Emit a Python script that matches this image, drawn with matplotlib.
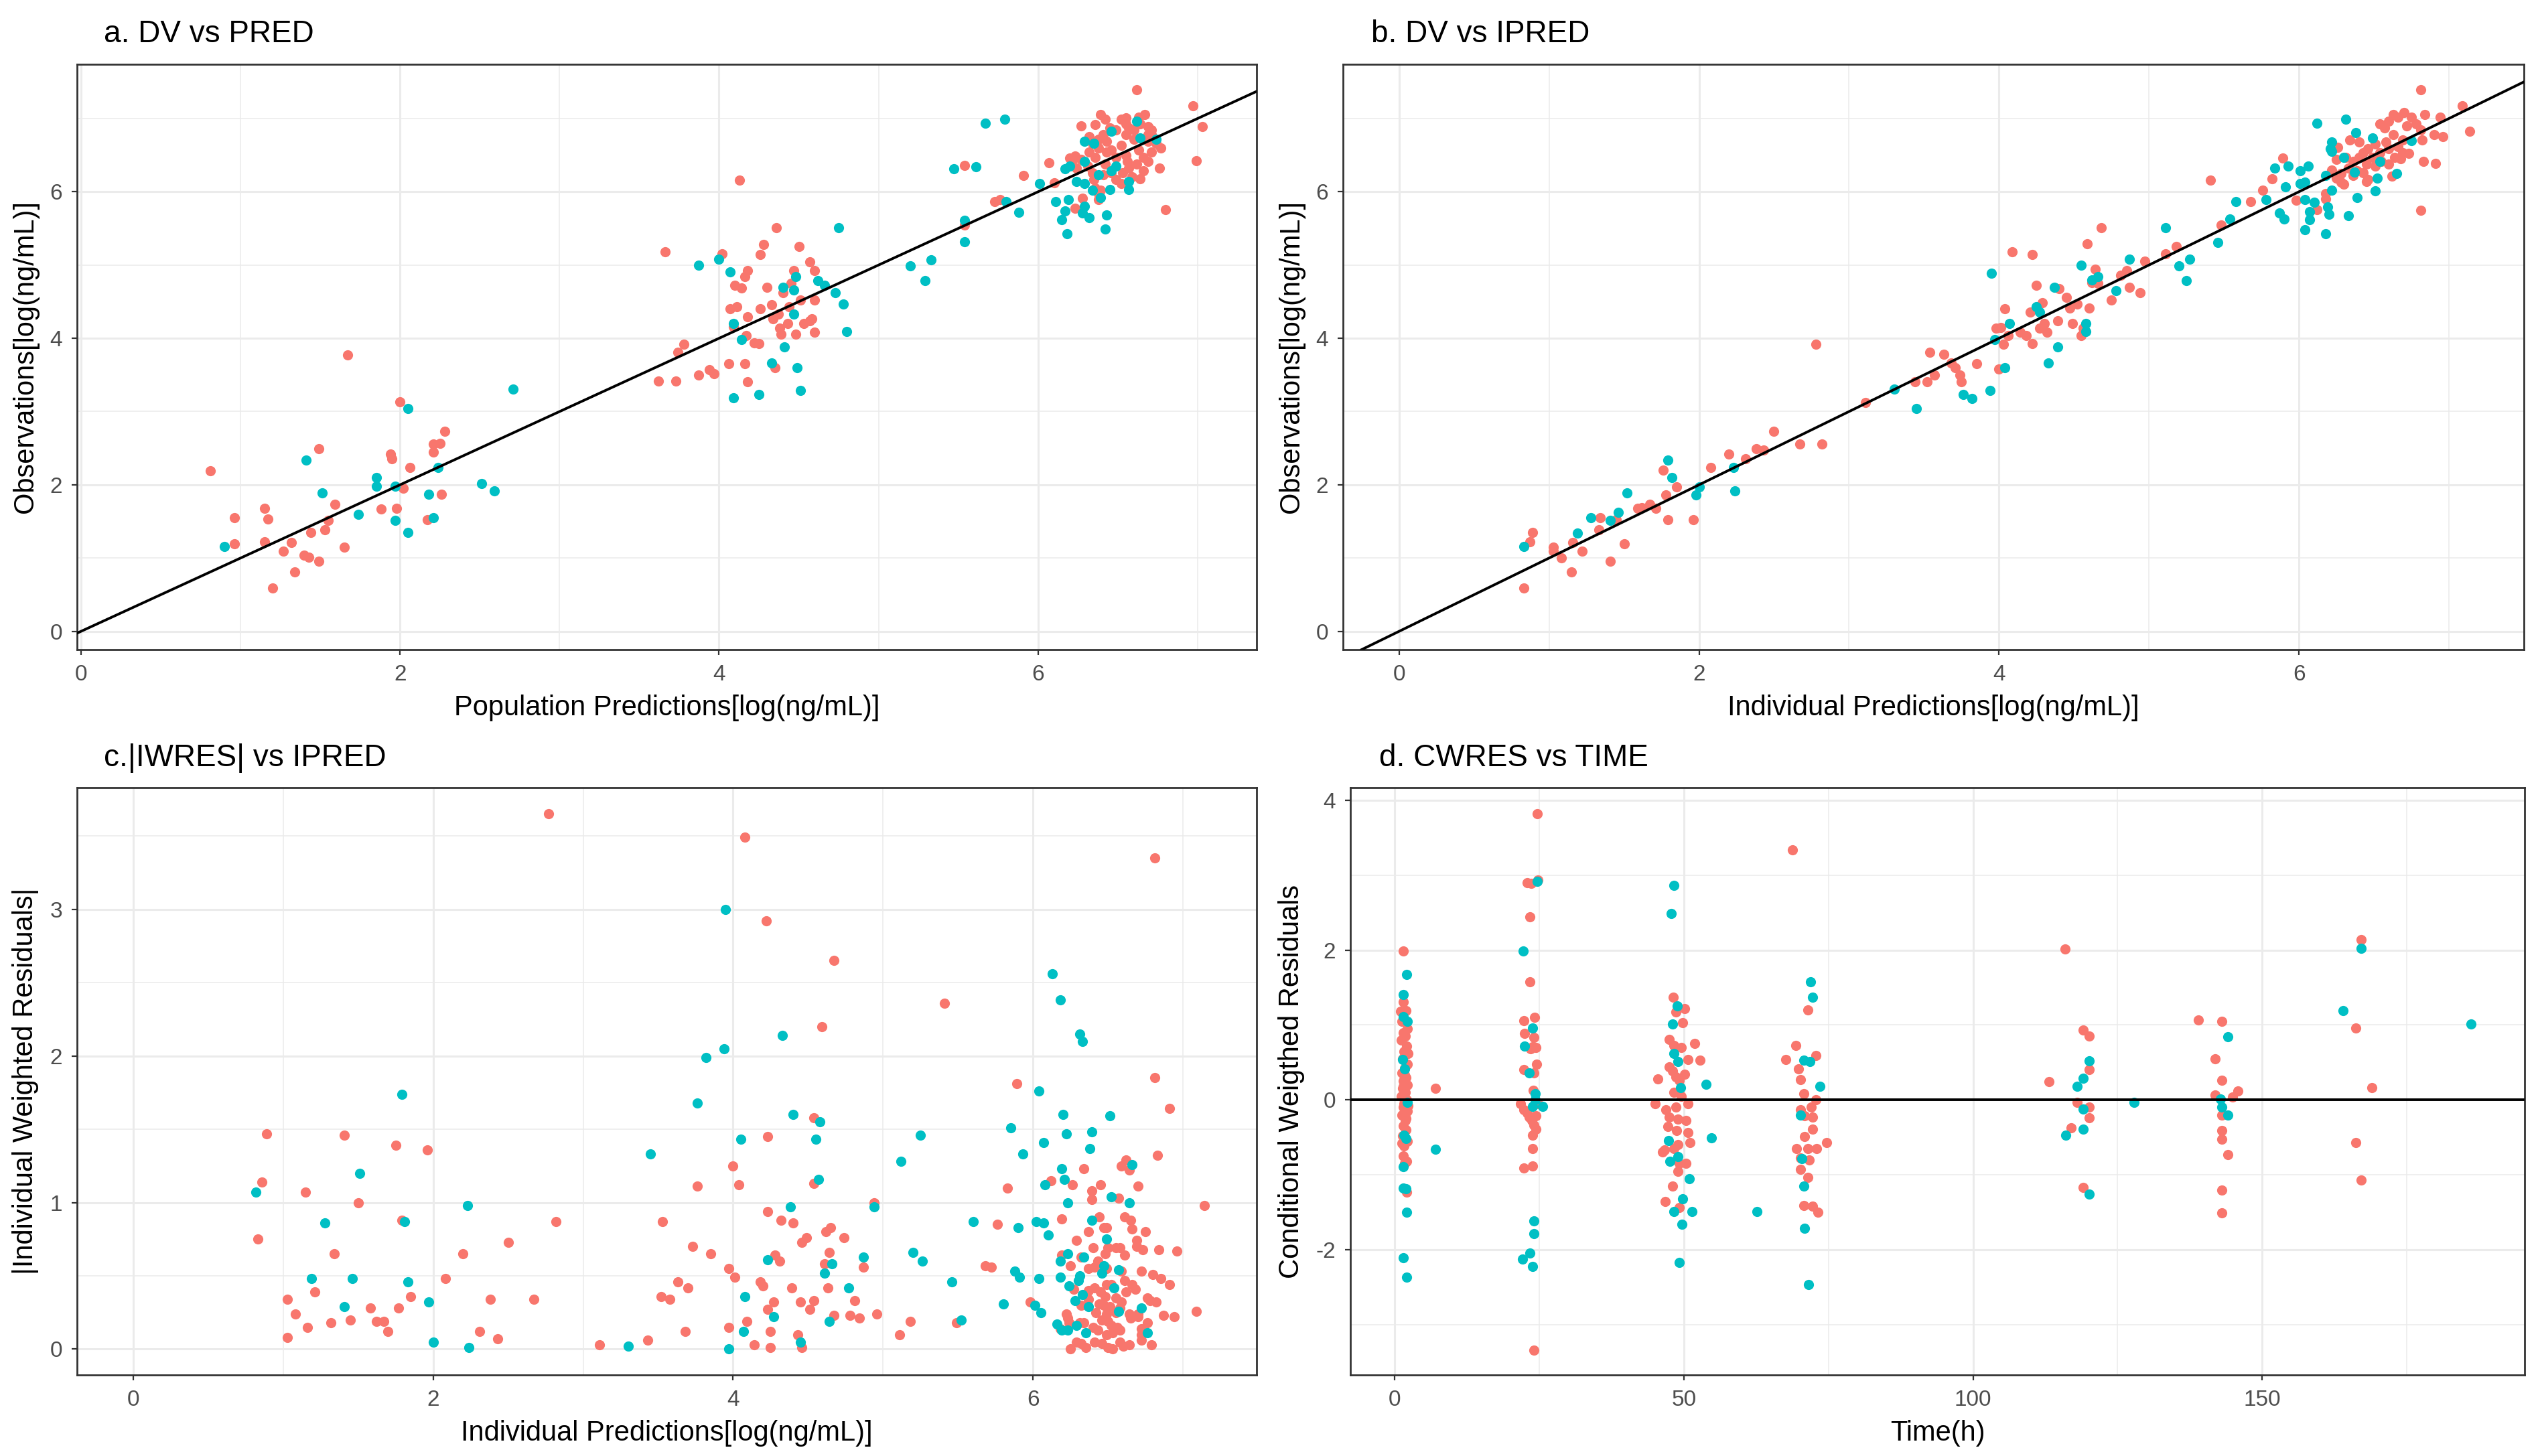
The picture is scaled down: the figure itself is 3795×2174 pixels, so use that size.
import numpy as np
import matplotlib
matplotlib.use("Agg")
import matplotlib.pyplot as plt
from matplotlib.ticker import MultipleLocator

plt.rcParams['font.family'] = ['Liberation Sans', 'DejaVu Sans']
plt.rcParams['axes.unicode_minus'] = False

RED = "#F8766D"
TEAL = "#00BFC4"

# ---- a. DV vs PRED  (PRED, DV) ----
a_red = [(0.81, 2.19), (0.96, 1.55), (0.96, 1.19), (1.15, 1.68), (1.17, 1.53), (1.15, 1.22), (1.20, 0.59),
         (1.27, 1.09), (1.32, 1.21), (1.34, 0.81), (1.40, 1.04), (1.43, 1.01), (1.44, 1.35), (1.49, 0.96),
         (1.49, 2.49), (1.53, 1.39), (1.55, 1.51), (1.59, 1.73), (1.65, 1.15), (1.67, 3.77), (1.88, 1.67),
         (1.94, 2.42), (1.95, 2.36), (2.00, 3.13), (1.98, 1.68), (2.02, 1.95), (2.06, 2.24), (2.17, 1.52),
         (2.21, 2.56), (2.21, 2.45), (2.25, 2.57), (2.26, 1.87), (2.28, 2.73),
         (3.62, 3.42), (3.73, 3.42), (3.66, 5.18), (3.74, 3.81), (3.78, 3.92), (3.87, 3.50), (3.94, 3.57),
         (3.97, 3.52), (4.02, 5.15), (4.06, 3.65), (4.07, 4.40), (4.09, 4.16), (4.11, 4.43), (4.13, 6.16),
         (4.10, 4.72), (4.14, 4.69), (4.16, 4.84), (4.18, 4.92), (4.16, 3.65), (4.18, 3.41), (4.17, 4.04),
         (4.18, 4.29), (4.22, 3.94), (4.25, 3.93), (4.26, 5.14), (4.26, 4.40), (4.28, 5.28), (4.30, 4.70),
         (4.33, 4.46), (4.34, 4.27), (4.35, 3.60), (4.36, 5.51), (4.37, 4.33), (4.38, 4.14), (4.39, 4.06),
         (4.40, 4.62), (4.43, 4.20), (4.44, 4.43), (4.45, 4.75), (4.47, 4.92), (4.48, 4.06), (4.50, 5.25),
         (4.51, 4.52), (4.53, 4.20), (4.57, 5.04), (4.57, 4.24), (4.60, 4.08), (4.60, 4.92), (4.60, 4.52),
         (4.58, 4.27), (5.54, 6.36), (5.54, 5.55),
         (6.62, 7.39), (6.97, 7.17), (7.03, 6.89), (6.99, 6.42), (6.80, 5.76), (6.76, 6.32), (5.91, 6.22),
         (6.07, 6.40), (6.10, 6.12), (5.73, 5.87), (5.76, 5.89), (6.27, 6.90), (6.23, 5.77), (6.28, 5.91),
         (6.38, 5.89), (6.39, 6.02), (6.64, 6.18), (6.77, 6.60), (6.39, 7.05), (6.42, 6.99), (6.36, 6.92),
         (6.52, 6.99), (6.55, 7.01), (6.63, 7.02), (6.67, 7.05), (6.69, 6.89), (6.71, 6.78),
         (6.20, 6.46), (6.23, 6.49), (6.27, 6.44), (6.31, 6.35), (6.34, 6.26), (6.35, 6.17), (6.34, 6.66),
         (6.38, 6.72), (6.41, 6.78), (6.43, 6.69), (6.46, 6.57), (6.49, 6.47), (6.52, 6.63), (6.55, 6.78),
         (6.57, 6.87), (6.60, 6.72), (6.63, 6.57), (6.66, 6.47), (6.69, 6.69), (6.71, 6.54), (6.74, 6.66),
         (6.56, 6.41), (6.57, 6.32), (6.53, 6.26), (6.49, 6.17), (6.52, 6.11), (6.46, 6.26), (6.41, 6.23),
         (6.62, 6.38), (6.69, 6.41), (6.55, 6.50), (6.43, 6.54), (6.38, 6.60), (6.32, 6.54), (6.49, 6.84),
         (6.60, 6.84), (6.64, 6.93), (6.69, 6.78), (6.55, 6.93), (6.45, 6.87), (6.32, 6.75), (6.36, 6.47),
         (6.42, 6.38), (6.59, 6.20), (6.66, 6.29), (6.36, 6.05), (6.38, 5.98), (6.24, 6.32), (6.21, 6.41),
         (6.71, 6.84)]
a_teal = [(0.90, 1.16), (1.41, 2.34), (1.51, 1.89), (1.74, 1.60), (1.85, 2.10), (1.85, 1.98), (1.97, 1.51),
          (1.97, 1.98), (2.05, 3.04), (2.05, 1.35), (2.18, 1.87), (2.21, 1.55), (2.24, 2.24), (2.51, 2.02),
          (2.59, 1.92), (2.71, 3.31),
          (3.87, 5.00), (4.00, 5.08), (4.07, 4.91), (4.09, 4.20), (4.09, 3.19), (4.14, 3.98), (4.25, 3.23),
          (4.33, 3.66), (4.40, 4.70), (4.41, 3.88), (4.47, 4.66), (4.48, 4.84), (4.49, 3.60), (4.51, 3.29),
          (4.47, 4.33), (4.62, 4.79), (4.66, 4.72), (4.73, 4.62), (4.75, 5.51), (4.78, 4.47), (4.80, 4.09),
          (5.20, 4.99), (5.29, 4.79), (5.33, 5.07), (5.47, 6.31), (5.54, 5.61), (5.54, 5.32), (5.61, 6.34),
          (5.67, 6.94),
          (5.79, 6.99), (5.80, 5.87), (5.88, 5.72), (6.01, 6.11), (6.11, 5.87), (6.19, 5.89), (6.17, 5.74),
          (6.15, 5.62), (6.18, 5.43), (6.29, 5.80), (6.28, 5.71), (6.32, 5.65), (6.43, 5.68), (6.42, 5.49),
          (6.39, 5.92), (6.34, 6.02), (6.45, 6.03), (6.57, 6.03), (6.57, 6.14), (6.46, 6.29), (6.49, 6.35),
          (6.17, 6.31), (6.20, 6.35), (6.24, 6.14), (6.29, 6.11), (6.29, 6.41), (6.29, 6.69), (6.35, 6.66),
          (6.46, 6.83), (6.62, 6.96), (6.74, 6.72), (6.64, 6.73), (6.38, 6.23)]

# ---- b. DV vs IPRED  (IPRED, DV) ----
b_red = [(0.83, 0.59), (0.87, 1.22), (0.89, 1.35), (1.03, 1.15), (1.03, 1.09), (1.08, 1.00), (1.15, 0.81),
         (1.16, 1.21), (1.22, 1.09), (1.33, 1.39), (1.34, 1.55), (1.41, 0.96), (1.45, 1.52), (1.50, 1.19),
         (1.59, 1.68), (1.62, 1.69), (1.67, 1.73), (1.71, 1.68), (1.76, 2.20), (1.78, 1.86), (1.79, 1.52),
         (1.85, 1.97), (1.96, 1.52), (2.08, 2.24), (2.20, 2.42), (2.31, 2.36), (2.38, 2.49), (2.43, 2.47),
         (2.50, 2.73), (2.67, 2.56), (2.78, 3.92), (2.82, 2.56), (3.11, 3.12), (3.44, 3.41), (3.52, 3.41),
         (3.54, 3.81), (3.57, 3.50), (3.63, 3.78), (3.68, 3.66), (3.71, 3.60), (3.74, 3.50), (3.75, 3.41),
         (3.85, 3.65), (3.98, 4.14), (4.01, 4.15), (4.00, 3.58), (4.04, 4.40), (4.03, 3.92), (4.06, 4.04),
         (4.09, 5.18), (4.14, 4.08), (4.18, 4.04), (4.21, 4.36), (4.22, 3.93), (4.22, 5.14), (4.25, 4.72),
         (4.27, 4.14), (4.29, 4.49), (4.32, 4.08), (4.30, 4.20), (4.40, 4.68), (4.39, 4.24), (4.45, 4.56),
         (4.47, 4.41), (4.49, 4.20), (4.52, 4.47), (4.55, 4.04), (4.56, 4.14), (4.59, 5.29), (4.60, 4.41),
         (4.62, 4.76), (4.66, 4.75), (4.64, 4.94), (4.68, 5.51), (4.75, 4.52), (4.81, 4.86), (4.85, 4.92),
         (4.87, 4.70), (4.94, 4.62), (4.97, 5.05), (5.11, 5.15), (5.18, 5.25), (5.41, 6.16), (5.48, 5.55),
         (5.68, 5.87),
         (6.81, 7.39), (7.09, 7.17), (7.14, 6.83), (6.81, 5.75), (6.83, 6.41), (6.91, 6.39), (6.96, 6.75),
         (6.94, 7.02), (6.84, 7.05), (5.89, 6.46), (5.82, 6.18), (5.76, 6.02), (5.98, 5.88), (6.12, 5.76),
         (6.18, 5.98), (6.18, 5.90), (6.26, 6.61), (6.25, 6.44), (6.22, 6.30), (6.34, 6.71), (6.62, 6.21),
         (6.68, 6.45), (6.73, 6.52), (6.82, 6.71), (6.90, 6.78),
         (6.25, 6.19), (6.30, 6.10), (6.28, 6.25), (6.33, 6.32), (6.36, 6.41), (6.39, 6.29), (6.40, 6.47),
         (6.43, 6.53), (6.45, 6.38), (6.46, 6.59), (6.49, 6.47), (6.51, 6.65), (6.54, 6.53), (6.55, 6.41),
         (6.58, 6.68), (6.60, 6.59), (6.63, 6.78), (6.57, 6.87), (6.60, 6.96), (6.66, 7.02), (6.70, 7.08),
         (6.72, 6.90), (6.78, 6.93), (6.81, 6.84), (6.69, 6.71), (6.66, 6.62), (6.54, 6.93), (6.63, 7.05),
         (6.75, 7.02), (6.43, 6.26), (6.46, 6.17), (6.36, 6.22), (6.45, 6.14), (6.60, 6.38), (6.64, 6.47),
         (6.69, 6.53), (6.51, 6.35), (6.28, 6.13), (6.31, 6.47), (6.40, 6.68)]
b_teal = [(0.83, 1.16), (1.19, 1.34), (1.28, 1.55), (1.41, 1.51), (1.46, 1.62), (1.52, 1.89), (1.79, 2.34),
          (1.82, 2.10), (1.98, 1.86), (2.00, 1.97), (2.23, 2.24), (2.24, 1.92), (3.30, 3.31), (3.45, 3.04),
          (3.76, 3.23), (3.82, 3.18), (3.94, 3.29), (3.95, 4.89), (3.97, 3.98), (4.04, 3.60), (4.07, 4.20),
          (4.25, 4.43), (4.27, 4.36), (4.33, 3.66), (4.39, 3.88), (4.37, 4.70), (4.58, 4.20), (4.58, 4.09),
          (4.55, 5.00), (4.62, 4.80), (4.66, 4.84), (4.78, 4.65), (4.87, 5.08), (5.11, 5.51), (5.20, 4.99),
          (5.25, 4.79), (5.27, 5.08), (5.46, 5.31), (5.54, 5.63), (5.58, 5.87),
          (6.12, 6.94), (6.31, 6.99), (6.38, 6.81), (6.22, 6.68), (6.21, 6.59), (6.22, 6.55), (5.84, 6.32),
          (5.93, 6.35), (6.01, 6.29), (6.06, 6.35), (5.78, 5.89), (5.91, 6.07), (6.01, 6.11), (6.04, 6.13),
          (6.04, 5.89), (6.10, 5.86), (5.87, 5.71), (5.90, 5.63), (6.07, 5.73), (6.07, 5.62), (6.04, 5.48),
          (6.18, 5.43), (6.19, 5.79), (6.20, 5.69), (6.33, 5.67), (6.39, 5.92), (6.51, 6.01), (6.52, 6.19),
          (6.65, 6.25), (6.49, 6.73), (6.30, 6.47), (6.37, 6.27), (6.54, 6.41), (6.75, 6.70), (6.18, 6.22),
          (6.22, 6.02)]

# ---- c. |IWRES| vs IPRED ----
c_red = [(0.83, 0.75), (0.86, 1.14), (0.89, 1.47), (1.03, 0.34), (1.03, 0.08), (1.08, 0.24), (1.15, 1.07),
         (1.16, 0.15), (1.21, 0.39), (1.32, 0.18), (1.34, 0.65), (1.41, 1.46), (1.45, 0.20), (1.50, 1.00),
         (1.58, 0.28), (1.62, 0.19), (1.67, 0.19), (1.70, 0.12), (1.75, 1.39), (1.77, 0.28), (1.79, 0.88),
         (1.85, 0.36), (1.96, 1.36), (2.08, 0.48), (2.20, 0.65), (2.31, 0.12), (2.38, 0.34), (2.43, 0.07),
         (2.50, 0.73), (2.67, 0.34), (2.77, 3.65), (2.82, 0.87), (3.11, 0.03), (3.43, 0.06), (3.53, 0.87),
         (3.52, 0.36), (3.58, 0.34), (3.68, 0.12), (3.70, 0.42), (3.73, 0.70), (3.76, 1.11), (3.63, 0.46),
         (3.85, 0.65), (3.97, 0.55), (3.97, 0.15), (4.00, 1.25), (4.01, 0.49), (4.04, 1.12), (4.08, 3.49),
         (4.09, 0.19), (4.14, 0.03), (4.18, 0.46), (4.20, 0.43), (4.23, 1.45), (4.23, 0.94), (4.22, 2.92),
         (4.23, 0.27), (4.25, 0.01), (4.25, 0.12), (4.27, 0.32), (4.28, 0.64), (4.31, 0.60), (4.32, 0.88),
         (4.39, 0.42), (4.40, 0.86), (4.43, 0.10), (4.45, 0.32), (4.46, 0.73), (4.46, 0.01), (4.49, 0.76),
         (4.51, 0.27), (4.54, 1.13), (4.54, 1.58), (4.54, 0.33), (4.59, 2.20), (4.61, 0.58), (4.62, 0.80),
         (4.63, 0.42), (4.64, 0.66), (4.65, 0.83), (4.67, 2.65), (4.67, 0.23), (4.74, 0.76), (4.78, 0.23),
         (4.81, 0.33), (4.84, 0.21), (4.87, 0.56), (4.94, 1.00), (4.96, 0.24), (5.11, 0.10), (5.18, 0.19),
         (5.41, 2.36), (5.49, 0.18), (5.89, 1.81), (6.81, 3.35), (6.81, 1.85),
         (6.91, 1.64), (6.83, 1.32), (6.62, 1.29), (6.59, 1.25), (6.64, 1.22), (6.34, 1.23), (5.83, 1.10),
         (6.12, 1.15), (6.26, 1.12), (6.45, 1.12), (6.70, 1.11), (6.39, 1.08), (6.39, 1.02), (6.57, 1.03),
         (7.14, 0.98), (5.76, 0.85), (6.19, 0.89), (6.44, 0.90), (6.61, 0.90), (6.65, 0.88), (6.47, 0.83),
         (6.49, 0.83), (6.66, 0.82), (6.75, 0.80), (6.37, 0.80), (6.29, 0.74), (6.69, 0.74), (6.69, 0.70),
         (6.40, 0.69), (6.50, 0.69), (6.55, 0.69), (6.58, 0.69), (6.61, 0.64), (6.73, 0.68), (6.84, 0.68),
         (6.96, 0.67), (6.19, 0.64), (6.32, 0.63), (6.48, 0.65), (6.43, 0.60), (6.41, 0.56), (6.25, 0.57),
         (5.68, 0.57), (5.72, 0.56), (6.37, 0.55), (6.49, 0.55), (6.59, 0.53), (6.72, 0.53), (6.80, 0.51),
         (6.85, 0.48), (6.61, 0.47), (6.91, 0.44), (6.49, 0.44), (6.52, 0.44), (6.66, 0.44), (6.68, 0.41),
         (6.41, 0.42), (6.37, 0.40), (6.27, 0.41), (6.62, 0.39), (6.45, 0.39), (6.48, 0.36), (6.55, 0.35),
         (6.76, 0.35), (6.78, 0.33), (6.82, 0.32), (5.98, 0.32), (6.37, 0.34), (6.32, 0.30), (6.44, 0.31),
         (6.47, 0.30), (6.59, 0.32), (6.58, 0.28), (6.51, 0.29), (6.42, 0.25), (6.49, 0.24), (6.55, 0.25),
         (6.64, 0.24), (6.70, 0.24), (6.87, 0.23), (6.94, 0.22), (7.09, 0.26), (6.22, 0.24), (6.23, 0.21),
         (6.24, 0.18), (6.46, 0.20), (6.50, 0.19), (6.65, 0.21), (6.70, 0.22), (6.76, 0.18), (6.31, 0.18),
         (6.34, 0.18), (6.40, 0.15), (6.43, 0.13), (6.52, 0.16), (6.56, 0.15), (6.58, 0.13), (6.72, 0.14),
         (6.72, 0.10), (6.72, 0.06), (6.18, 0.14), (6.29, 0.05), (6.32, 0.04), (6.35, 0.01), (6.41, 0.05),
         (6.46, 0.04), (6.50, 0.01), (6.53, 0.00), (6.58, 0.05), (6.60, 0.02), (6.64, 0.03), (6.25, 0.00),
         (6.79, 0.03), (6.49, 0.10), (6.53, 0.11)]
c_teal = [(0.82, 1.07), (1.19, 0.48), (1.28, 0.86), (1.41, 0.29), (1.46, 0.48), (1.51, 1.20), (1.79, 1.74),
          (1.81, 0.87), (1.83, 0.46), (1.97, 0.32), (2.00, 0.05), (2.23, 0.98), (2.24, 0.01), (3.30, 0.02),
          (3.45, 1.33), (3.76, 1.68), (3.82, 1.99), (3.94, 2.05), (3.95, 3.00), (3.97, 0.00), (4.05, 1.43),
          (4.07, 0.12), (4.08, 0.36), (4.23, 0.61), (4.27, 0.22), (4.33, 2.14), (4.38, 0.97), (4.40, 1.60),
          (4.45, 0.05), (4.55, 1.43), (4.57, 1.16), (4.58, 1.55), (4.61, 0.52), (4.64, 0.19), (4.66, 0.58),
          (4.77, 0.42), (4.87, 0.63), (4.94, 0.97), (5.12, 1.28), (5.20, 0.66), (5.25, 1.46), (5.26, 0.60),
          (5.46, 0.46), (5.52, 0.20), (6.13, 2.56), (6.18, 2.38), (6.31, 2.15), (6.33, 2.10),
          (6.04, 1.76), (6.20, 1.60), (6.51, 1.59), (5.85, 1.51), (6.22, 1.47), (6.39, 1.48), (6.07, 1.41),
          (6.38, 1.37), (5.93, 1.33), (6.66, 1.26), (6.19, 1.23), (6.21, 1.16), (6.08, 1.12), (6.52, 1.04),
          (6.64, 1.00), (6.23, 1.00), (5.60, 0.87), (5.90, 0.83), (6.02, 0.87), (6.07, 0.86), (6.10, 0.78),
          (6.39, 0.88), (6.49, 0.75), (6.23, 0.65), (6.18, 0.60), (6.34, 0.63), (5.88, 0.53), (5.91, 0.49),
          (6.04, 0.48), (6.18, 0.49), (6.31, 0.50), (6.30, 0.47), (6.47, 0.57), (6.46, 0.52), (6.57, 0.54),
          (6.24, 0.43), (6.54, 0.42), (6.33, 0.37), (6.28, 0.33), (6.37, 0.29), (5.80, 0.31), (6.01, 0.30),
          (6.05, 0.25), (6.57, 0.26), (6.72, 0.28), (6.16, 0.17), (6.19, 0.13), (6.23, 0.13), (6.35, 0.11),
          (6.76, 0.11), (6.29, 0.16)]

# ---- d. CWRES vs TIME ----
d_red = [(1.5, 1.99), (1.5, 1.31), (1.9, 1.19), (1.2, 1.05), (2.2, 0.95), (1.4, 0.90), (1.8, 0.85),
         (1.1, 0.80), (2.0, 0.72), (1.6, 0.65), (1.3, 0.55), (2.1, 0.48), (1.7, 0.42), (1.2, 0.36),
         (1.9, 0.30), (1.5, 0.25), (2.2, 0.20), (1.3, 0.15), (1.8, 0.10), (1.1, 0.05), (2.0, 0.00),
         (1.6, -0.05), (1.4, -0.10), (2.1, -0.15), (1.2, -0.20), (1.8, -0.28), (1.5, -0.35), (1.9, -0.40),
         (1.3, -0.48), (2.2, -0.55), (1.6, -0.62), (1.4, -0.75), (2.0, -0.82), (1.7, -0.85), (2.0, -1.23),
         (1.7, 0.33), (1.4, 0.18), (2.3, -0.08), (1.9, -0.25), (1.2, -0.58), (2.3, 0.62), (1.0, 1.18),
         (7.0, 0.15),
         (24.6, 3.82), (22.9, 2.90), (23.6, 2.89), (24.7, 2.94), (23.4, 2.44), (23.3, 1.58), (22.3, 1.06),
         (24.2, 1.10), (22.4, 0.89), (24.1, 0.83), (24.4, 0.70), (23.8, 0.71), (23.5, 0.68), (22.3, 0.40),
         (24.5, 0.48), (24.1, 0.36), (23.9, 0.13), (21.7, -0.05), (22.3, -0.13), (22.9, -0.18),
         (23.2, -0.23), (23.7, -0.28), (24.1, -0.34), (24.4, -0.39), (23.8, -0.47), (23.8, -0.65),
         (22.3, -0.91), (23.8, -0.88), (24.0, -3.34), (24.7, -0.05), (24.4, -0.21),
         (48.2, 1.37), (50.1, 1.22), (48.6, 1.17), (49.8, 1.03), (47.5, 0.81), (51.8, 0.75), (48.3, 0.73),
         (49.5, 0.70), (50.7, 0.54), (52.8, 0.53), (45.5, 0.28), (47.5, 0.44), (48.0, 0.39), (48.6, 0.31),
         (49.2, 0.26), (50.1, 0.34), (49.5, 0.05), (48.3, 0.10), (45.0, -0.05), (46.9, -0.13), (48.6, -0.10),
         (50.7, -0.05), (47.5, -0.23), (48.9, -0.26), (50.4, -0.28), (47.2, -0.36), (48.7, -0.41),
         (50.7, -0.44), (51.0, -0.57), (48.9, -0.60), (46.6, -0.67), (48.3, -0.65), (50.4, -0.85),
         (49.2, -0.85), (49.0, -0.96), (48.0, -1.15), (46.7, -1.36), (49.2, -1.44), (46.3, -0.70),
         (68.8, 3.34), (71.4, 1.20), (69.3, 0.73), (67.6, 0.54), (72.8, 0.59), (69.8, 0.41), (70.1, 0.27),
         (70.7, 0.08), (72.8, 0.00), (70.1, -0.13), (72.0, -0.10), (70.8, -0.21), (72.3, -0.23),
         (72.3, -0.39), (70.8, -0.49), (69.5, -0.65), (71.4, -0.65), (72.9, -0.65), (74.7, -0.57),
         (70.2, -0.78), (71.7, -0.80), (70.2, -0.93), (71.4, -1.04), (70.7, -1.41), (72.3, -1.42),
         (73.2, -1.50),
         (113.1, 0.24), (115.9, 2.01), (117.0, -0.37), (118.0, -0.03), (119.1, 0.93), (120.1, 0.85),
         (120.1, 0.40), (120.1, -0.10), (120.1, -0.24), (119.0, -1.17), (139.0, 1.07), (141.9, 0.55),
         (143.0, 1.05), (143.0, 0.26), (141.9, 0.06), (143.0, -0.20), (143.0, -0.41), (143.0, -0.53),
         (144.1, -0.73), (143.0, -1.21), (143.0, -1.51), (144.9, 0.04), (145.8, 0.12), (166.2, 0.96),
         (167.1, 2.14), (166.2, -0.57), (167.1, -1.07), (169.0, 0.16)]
d_teal = [(2.0, 1.67), (1.5, 1.41), (1.5, 1.11), (2.1, 1.05), (1.3, 0.54), (1.7, 0.41), (2.1, -0.03),
          (1.6, -0.47), (1.9, -0.52), (1.5, -0.89), (1.5, -1.18), (1.9, -1.19), (2.0, -1.50), (1.5, -2.11),
          (2.0, -2.37), (7.0, -0.66),
          (24.6, 2.92), (22.2, 1.99), (23.8, 0.96), (22.4, 0.72), (23.2, 0.36), (24.3, 0.08), (24.3, 0.00),
          (23.8, -0.09), (25.6, -0.09), (24.0, -1.62), (24.1, -1.79), (23.4, -2.05), (22.1, -2.13),
          (23.8, -2.23),
          (48.3, 2.86), (47.8, 2.49), (48.8, 1.25), (48.0, 1.01), (48.3, 0.62), (48.9, 0.51), (49.4, 0.16),
          (53.8, 0.21), (47.3, -0.54), (47.6, -0.82), (48.9, -0.76), (50.9, -1.05), (49.8, -1.32),
          (48.3, -1.49), (51.4, -1.49), (49.6, -1.66), (54.7, -0.51), (49.2, -2.17), (62.6, -1.49),
          (71.9, 1.58), (72.3, 1.37), (70.7, 0.53), (71.8, 0.51), (73.5, 0.18), (70.2, -0.20), (70.4, -0.79),
          (70.7, -1.15), (70.8, -1.72), (71.5, -2.47),
          (116.0, -0.47), (118.0, 0.18), (119.0, 0.29), (119.0, -0.12), (119.0, -0.39), (120.1, 0.52),
          (120.1, -1.26), (127.9, -0.03), (144.1, 0.84), (142.8, 0.01), (143.0, -0.10), (144.1, -0.20),
          (164.0, 1.19), (167.1, 2.02), (186.1, 1.01)]

titles = ["a. DV vs PRED", "b. DV vs IPRED", "c.|IWRES| vs IPRED", "d. CWRES vs TIME"]
xlabels = ["Population Predictions[log(ng/mL)]", "Individual Predictions[log(ng/mL)]",
           "Individual Predictions[log(ng/mL)]", "Time(h)"]
ylabels = ["Observations[log(ng/mL)]", "Observations[log(ng/mL)]",
           "|Individual Weighted Residuals|", "Conditional Weigthed Residuals"]

W, H = 3795, 2174
fig = plt.figure(figsize=(W / 200, H / 200), dpi=200)


def make_ax(l, r, t, b):
    return fig.add_axes([l / W, 1 - b / H, (r - l) / W, (b - t) / H])


def style(ax, xlim, ylim, xstep, ystep, xlabel, ylabel):
    ax.set_xlim(xlim)
    ax.set_ylim(ylim)
    ax.xaxis.set_major_locator(MultipleLocator(xstep))
    ax.xaxis.set_minor_locator(MultipleLocator(xstep / 2))
    ax.yaxis.set_major_locator(MultipleLocator(ystep))
    ax.yaxis.set_minor_locator(MultipleLocator(ystep / 2))
    ax.set_axisbelow(True)
    ax.grid(which='major', color='#EBEBEB', linewidth=1.1)
    ax.grid(which='minor', color='#EBEBEB', linewidth=0.55)
    ax.tick_params(which='minor', length=0)
    ax.tick_params(which='major', length=2.9, width=0.8, color='#333333',
                   labelsize=12, labelcolor='#4D4D4D', pad=5)
    for s in ax.spines.values():
        s.set_color('#333333')
        s.set_linewidth(1.0)
    ax.set_xlabel(xlabel, fontsize=15, labelpad=5)
    ax.set_ylabel(ylabel, fontsize=15, labelpad=6)


def points(ax, red, teal):
    r = np.array(red)
    t = np.array(teal)
    ax.scatter(r[:, 0], r[:, 1], s=30, color=RED, linewidths=0, zorder=3)
    ax.scatter(t[:, 0], t[:, 1], s=30, color=TEAL, linewidths=0, zorder=3)


# a
ax = make_ax(115, 1876, 96, 970)
style(ax, (-0.025, 7.37), (-0.25, 7.74), 2, 2, xlabels[0], ylabels[0])
points(ax, a_red, a_teal)
ax.axline((0, 0), slope=1, color='black', linewidth=1.4, zorder=4)

# b
ax = make_ax(2005, 3768, 96, 970)
style(ax, (-0.374, 7.5), (-0.25, 7.74), 2, 2, xlabels[1], ylabels[1])
points(ax, b_red, b_teal)
ax.axline((0, 0), slope=1, color='black', linewidth=1.4, zorder=4)

# c
ax = make_ax(115, 1876, 1176, 2053)
style(ax, (-0.374, 7.49), (-0.176, 3.83), 2, 1, xlabels[2], ylabels[2])
points(ax, c_red, c_teal)

# d
ax = make_ax(2016, 3769, 1176, 2053)
style(ax, (-7.7, 195.4), (-3.675, 4.17), 50, 2, xlabels[3], ylabels[3])
points(ax, d_red, d_teal)
ax.axhline(0, color='black', linewidth=1.4, zorder=4)

title_pos = [(155, 63), (2047, 63), (155, 1144), (2059, 1144)]
for (tx, ty), t in zip(title_pos, titles):
    fig.text(tx / W, 1 - ty / H, t, fontsize=16.5, ha='left', va='baseline', color='black')

fig.savefig("out.png", dpi=200, facecolor='white')
